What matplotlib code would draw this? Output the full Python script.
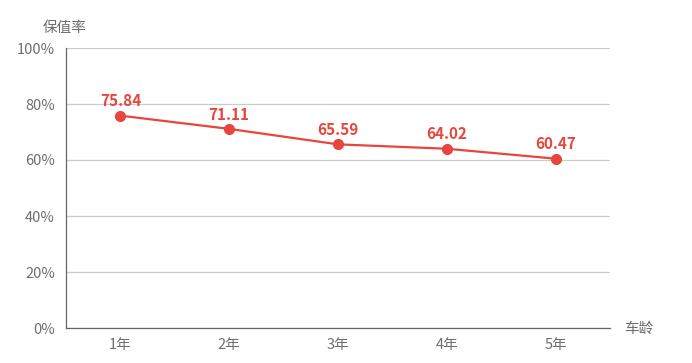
import matplotlib
matplotlib.use("Agg")
import matplotlib.pyplot as plt

plt.rcParams['font.family'] = ['Noto Sans CJK SC', 'DejaVu Sans']

categories = ["1年", "2年", "3年", "4年", "5年"]
values = [75.84, 71.11, 65.59, 64.02, 60.47]
yticks = [0, 20, 40, 60, 80, 100]

fig = plt.figure(figsize=(6.92, 3.63), dpi=100)
ax = fig.add_axes([66/692, 35/363, 544/692, 280/363])

red = "#e8453c"
gray = "#6e6e6e"
x = list(range(len(categories)))
ax.plot(x, values, color=red, lw=1.6, marker='o', ms=7, zorder=3)
for xi, v in zip(x, values):
    ax.annotate(f"{v:.2f}", (xi, v), xytext=(0, 4.5), textcoords='offset points',
                ha='center', va='bottom', color=red, fontsize=11, fontweight='bold')

ax.set_xlim(-0.5, len(categories) - 0.5)
ax.set_ylim(0, 100)
ax.set_xticks(x)
ax.set_xticklabels(categories)
ax.set_yticks(yticks)
ax.set_yticklabels([f"{t}%" for t in yticks])
ax.tick_params(axis='both', length=0, colors=gray, labelsize=10.5)
ax.tick_params(axis='x', pad=7)
ax.tick_params(axis='y', pad=8)
ax.grid(axis='y', color='#cccccc', lw=0.9)
ax.set_axisbelow(True)
for s in ['top', 'right']:
    ax.spines[s].set_visible(False)
ax.spines['left'].set_color('#666666')
ax.spines['bottom'].set_color('#666666')
ax.spines['left'].set_linewidth(0.9)
ax.spines['bottom'].set_linewidth(0.9)

fig.text(65/692, 1 - 28/363, "保值率", ha='center', va='center', color=gray, fontsize=10.5)
fig.text(639/692, 1 - 329/363, "车龄", ha='center', va='center', color=gray, fontsize=10.5)

fig.savefig("out.png", dpi=100)
